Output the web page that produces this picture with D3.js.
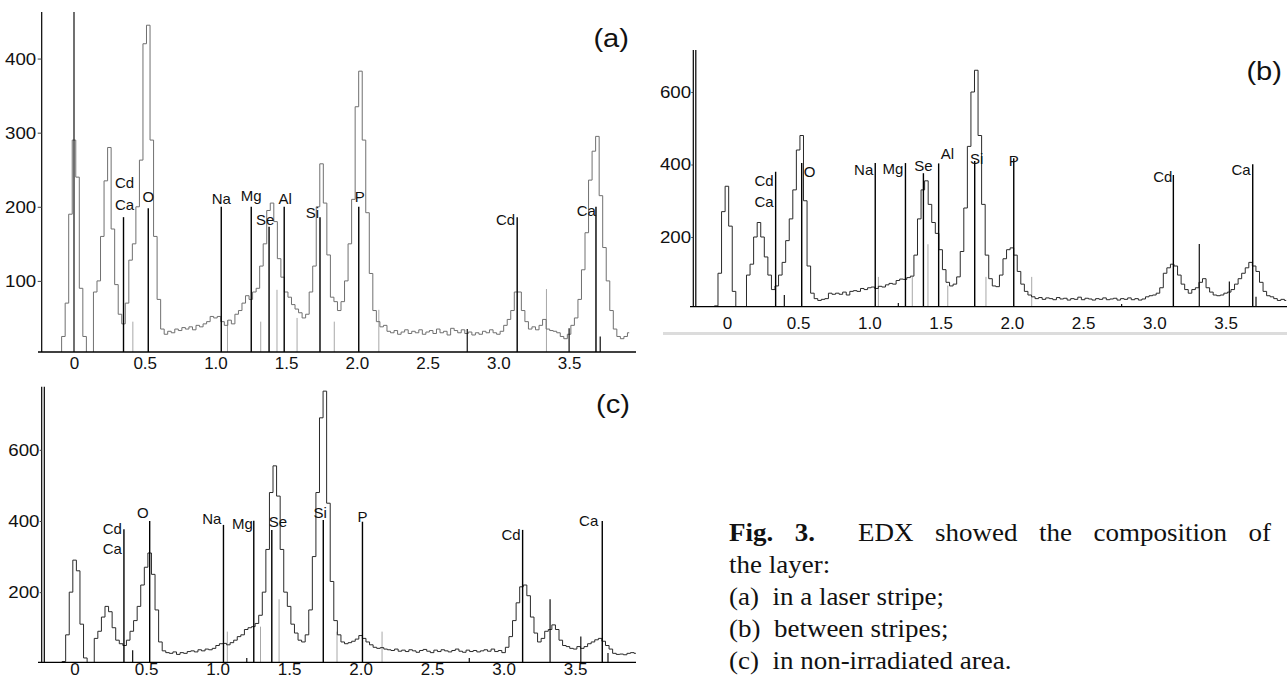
<!DOCTYPE html>
<html>
<head>
<meta charset="utf-8">
<script src="https://cdn.jsdelivr.net/npm/d3@7"></script>
<style>
  body { margin: 0; background: #fff; }
  svg { display: block; }
  text { font-family: "Liberation Sans", Arial, sans-serif; fill: #111; }
  .serif { font-family: "Liberation Serif", "Times New Roman", serif; }
</style>
</head>
<body>
<svg id="fig" width="1287" height="680"></svg>
<script>
// EDX spectra, counts per 0.025 keV channel starting at -0.2 keV
const energyStart = -0.2, energyStep = 0.025;

const countsA = [
  0,0,0,0,0,25,70,190,290,240,90,25,0,0,85,100,160,235,280,170,
  95,55,42,70,128,150,200,263,420,445,290,160,75,35,28,32,30,35,33,37,
  35,38,34,40,38,42,45,52,50,52,45,40,47,42,55,60,70,80,75,85,
  90,120,150,195,205,180,130,105,85,78,68,62,57,50,55,85,120,200,258,205,
  135,78,72,60,72,100,150,210,335,383,290,192,110,60,45,38,40,32,30,33,
  28,31,34,29,32,30,34,28,31,33,29,35,30,32,27,36,33,30,34,29,
  31,27,30,28,32,30,34,30,28,32,40,48,60,85,85,60,45,35,38,34,
  40,48,35,33,32,30,25,22,28,40,50,75,115,165,236,275,295,215,145,100,
  60,35,25,22,25,30
];
const countsB = [
  0,0,0,0,0,10,100,270,340,230,50,5,0,0,95,125,200,240,200,145,
  95,55,65,95,130,190,250,330,440,480,300,120,45,30,25,28,30,45,42,45,
  42,48,40,50,52,50,58,55,60,62,58,64,62,68,72,70,80,84,83,88,
  92,150,250,330,355,290,240,210,165,110,75,65,70,90,160,280,450,600,660,480,
  290,150,85,65,63,95,140,165,170,150,105,70,50,40,35,30,33,28,32,30,
  27,33,29,31,26,30,28,34,27,31,29,26,30,28,32,27,29,31,26,30,
  28,32,27,30,26,29,35,38,40,45,60,100,115,125,120,95,70,55,45,55,
  60,75,85,60,48,40,38,40,45,48,55,70,85,100,115,130,120,105,75,50,
  38,35,30,25,28,25
];
const countsC = [
  0,0,0,0,0,5,80,200,290,260,110,15,0,0,70,90,130,160,145,100,
  65,55,50,65,90,120,160,220,270,310,250,150,60,35,30,28,32,25,30,28,
  33,35,32,38,35,40,38,42,50,55,56,52,58,65,75,80,95,100,103,112,
  135,200,320,480,555,470,320,200,160,110,85,65,60,80,150,300,480,690,765,450,
  230,120,80,60,55,58,62,68,78,70,60,52,45,42,44,40,38,36,40,34,
  37,33,38,35,31,36,39,34,30,37,33,38,35,32,36,40,34,31,37,33,
  36,32,35,38,34,40,33,36,30,45,75,120,170,215,220,190,130,85,60,70,
  90,95,108,95,65,50,47,42,40,47,42,47,55,60,66,70,62,50,40,28,
  25,26,24,28,30,28
];

// labelled element lines: name, energy (keV), line height (counts)
const elementsA = ["Cd|Ca","O","Na","Mg","Se","Al","Si","P","Cd","Ca"];
const energiesA = [0.35,0.525,1.041,1.253,1.379,1.486,1.739,2.013,3.133,3.69];
const heightsA  = [186,198,200,200,173,200,186,200,186,200];

const elementsB = ["Cd|Ca","O","Na","Mg","Se","Al","Si","P","Cd","Ca"];
const energiesB = [0.342,0.525,1.041,1.253,1.379,1.486,1.739,2.013,3.133,3.69];
const heightsB  = [380,404,404,404,376,403,410,417,371,401];

const elementsC = ["Cd|Ca","O","Na","Mg","Se","Si","P","Cd","Ca"];
const energiesC = [0.345,0.525,1.041,1.253,1.379,1.739,2.013,3.133,3.69];
const heightsC  = [377,400,389,401,375,403,398,375,400];

// unlabelled lines [energy, height]
const faintLinesA = [[0.416,45],[1.085,47],[1.32,45],[1.435,88],[1.577,50],[1.84,45],[2.155,61],[3.34,89]];
const thinLinesA  = [[0,463],[2.78,35],[3.5,36],[3.72,25]];
const faintLinesB = [[1.063,90],[1.301,90],[1.411,180],[1.55,66],[1.818,90],[2.139,90]];
const thinLinesB  = [[0.403,40],[1.203,18],[2.77,15],[3.315,181],[3.526,77],[3.713,35]];
const faintLinesC = [[1.068,89],[1.3,103],[1.43,180],[1.835,89],[2.15,89]];
const thinLinesC  = [[0.406,37],[1.204,15],[2.76,15],[3.325,180],[3.54,75],[3.73,29]];

const xTicks = [0,0.5,1,1.5,2,2.5,3,3.5];
const xTickLabels = ["0","0.5","1.0","1.5","2.0","2.5","3.0","3.5"];
const yTicksA = [100,200,300,400];
const yTicksBC = [200,400,600];

const captionHead = ["Fig.","3."];
const captionWords = ["EDX","showed","the","composition","of"];
const captionLines = ["the layer:","(a)  in a laser stripe;","(b)  between stripes;","(c)  in non-irradiated area."];

// label placement per element: [anchor, dx, dy from line top, line spacing]
const labelPosA = [["middle",1,-7,22],["middle",0,-6],["middle",0,-3],["middle",0,-6],["middle",-4,-2],
  ["middle",1,-3],["end",-1,1],["middle",1,-5],["end",-2,8],["end",0,9]];
const labelPosB = [["end",-2,35,21],["start",2,14],["end",-2,12],["end",-2,11],["middle",0,-2],
  ["start",2,-4],["middle",2,3],["middle",0,8],["end",-1,7],["end",-2,11]];
const labelPosC = [["end",-2,25,20],["end",-1,-3],["end",-2,-1],["end",-1,8],["start",-3,-3],
  ["middle",-3,-2],["middle",0,0],["end",-2,10],["end",-4,5]];

const panels = [
  { id: "a", counts: countsA, elements: elementsA, energies: energiesA, heights: heightsA,
    faint: faintLinesA, thin: thinLinesA, labelPos: labelPosA, yTicks: yTicksA,
    xRange: [74, 569.1], yMax: 460, yRange: [355, 14.1], base: 352, left: 38, right: 636,
    axisX: [41.7], axisTop: 12, tickSize: 4, tickPad: 1, xPad: 5, lineColor: "#707070",
    tag: "(a)", tagX: 629, tagY: 47 },
  { id: "b", counts: countsB, elements: elementsB, energies: energiesB, heights: heightsB,
    faint: faintLinesB, thin: thinLinesB, labelPos: labelPosB, yTicks: yTicksBC,
    xRange: [726.9, 1225.65], yMax: 720, yRange: [309.5, 48.5], base: 306.7, left: 690, right: 1287,
    axisX: [693.3, 695.8], axisTop: 50, tickSize: 2, tickPad: 0, xPad: 10, lineColor: "#2a2a2a",
    tag: "(b)", tagX: 1282, tagY: 80 },
  { id: "c", counts: countsC, elements: elementsC, energies: energiesC, heights: heightsC,
    faint: faintLinesC, thin: thinLinesC, labelPos: labelPosC, yTicks: yTicksBC,
    xRange: [74.6, 575.1], yMax: 780, yRange: [663.3, 385.8], base: 662.3, left: 38, right: 636,
    axisX: [41.7, 44.3], axisTop: 386.7, tickSize: 2, tickPad: 0, xPad: 1, lineColor: "#2a2a2a",
    tag: "(c)", tagX: 630, tagY: 413 }
];

const svg = d3.select("#fig");
svg.append("rect").attr("width", 1287).attr("height", 680).attr("fill", "#fff");
const defs = svg.append("defs");

panels.forEach(p => {
  const x = d3.scaleLinear().domain([0, 3.5]).range(p.xRange);
  const y = d3.scaleLinear().domain([0, p.yMax]).range(p.yRange);
  const g = svg.append("g").attr("class", "panel-" + p.id);

  defs.append("clipPath").attr("id", "clip-" + p.id)
    .append("rect")
      .attr("x", p.left).attr("y", 0)
      .attr("width", p.right - p.left).attr("height", p.base);

  const pts = p.counts.map((v, i) => ({ e: energyStart + i * energyStep, v: v }));

  // faint (grey) reference lines
  g.selectAll(".faint")
    .data(p.faint)
    .enter().append("line")
      .attr("x1", d => x(d[0])).attr("x2", d => x(d[0]))
      .attr("y1", p.base).attr("y2", d => y(d[1]))
      .attr("stroke", "#a8a8a8").attr("stroke-width", 1);

  // spectrum
  const line = d3.line().x(d => x(d.e)).y(d => y(d.v)).curve(d3.curveStep);
  g.append("path")
    .datum(pts)
    .attr("clip-path", `url(#clip-${p.id})`)
    .attr("d", line)
    .attr("fill", "none")
    .attr("stroke", p.lineColor)
    .attr("stroke-width", 1);

  // thin dark lines
  g.selectAll(".thin")
    .data(p.thin)
    .enter().append("line")
      .attr("x1", d => x(d[0])).attr("x2", d => x(d[0]))
      .attr("y1", p.base).attr("y2", d => y(d[1]))
      .attr("stroke", "#111").attr("stroke-width", 1.2);

  // element lines and labels
  p.elements.forEach((name, i) => {
    const xe = x(p.energies[i]);
    const top = y(p.heights[i]);
    g.append("line")
      .attr("x1", xe).attr("x2", xe)
      .attr("y1", p.base).attr("y2", top)
      .attr("stroke", "#000").attr("stroke-width", 1.4);

    const lp = p.labelPos[i];
    const parts = name.split("|");
    parts.forEach((t, k) => {
      g.append("text")
        .attr("x", xe + lp[1])
        .attr("y", top + lp[2] - (parts.length - 1 - k) * (lp[3] || 0))
        .attr("text-anchor", lp[0])
        .style("font-size", "15px")
        .text(t);
    });
  });

  // axes frame
  g.append("line")
    .attr("x1", p.left).attr("x2", p.right)
    .attr("y1", p.base).attr("y2", p.base)
    .attr("stroke", "#000").attr("stroke-width", 1.3);
  p.axisX.forEach(ax => {
    g.append("line")
      .attr("x1", ax).attr("x2", ax)
      .attr("y1", p.axisTop).attr("y2", p.base)
      .attr("stroke", "#000").attr("stroke-width", 1.2);
  });

  // x tick labels
  const xAxis = g.append("g")
    .attr("transform", `translate(0, ${p.base})`)
    .call(d3.axisBottom(x).tickValues(xTicks)
      .tickFormat((d, i) => xTickLabels[i]).tickSize(0).tickPadding(p.xPad));
  xAxis.select(".domain").remove();
  xAxis.selectAll("text").style("font-size", "17px").attr("fill", "#111");

  // y tick labels (slightly wide, as in the scan)
  const yAxis = g.append("g")
    .attr("transform", `translate(${p.axisX[0]}, 0)`)
    .call(d3.axisLeft(y).tickValues(p.yTicks).tickSize(p.tickSize).tickPadding(p.tickPad));
  yAxis.select(".domain").remove();
  yAxis.selectAll("line").attr("stroke", "#444");
  yAxis.selectAll("text")
    .style("font-size", "17px").attr("fill", "#111")
    .attr("transform", "scale(1.1,1)");

  // panel tag
  g.append("text")
    .attr("transform", `translate(${p.tagX}, ${p.tagY}) scale(1.12, 1)`)
    .attr("text-anchor", "end")
    .style("font-size", "26px")
    .text(p.tag);
});

// light rule under panel (b) tick labels
svg.append("rect")
  .attr("x", 663).attr("y", 332).attr("width", 624).attr("height", 3)
  .attr("fill", "#dcdcdc");

// caption, a little stretched horizontally like the scanned figure
const capX = 729, capRight = 1271, capSize = 25, stretch = 1.08, capLead = 32;
const capTop = 541;

const cap1 = svg.append("g")
  .attr("transform", `translate(${capX}, ${capTop}) scale(${stretch}, 1)`);
const words = captionHead.map(w => ({ w: w, bold: true }))
  .concat(captionWords.map(w => ({ w: w, bold: false })));
const nodes = words.map(d => cap1.append("text")
  .attr("class", "serif")
  .style("font-size", capSize + "px")
  .style("font-weight", d.bold ? "bold" : "normal")
  .text(d.w));
const widths = nodes.map(n => n.node().getComputedTextLength());
const avail = (capRight - capX) / stretch;
// gap after "3." is double
const gapWeights = words.slice(0, -1).map((d, i) => (i === 1 ? 2 : 1));
const unit = (avail - d3.sum(widths)) / d3.sum(gapWeights);
let cx = 0;
nodes.forEach((n, i) => {
  n.attr("x", cx);
  cx += widths[i] + (i < gapWeights.length ? gapWeights[i] * unit : 0);
});

captionLines.forEach((t, i) => {
  svg.append("text")
    .attr("class", "serif")
    .attr("transform", `translate(${capX}, ${capTop + (i + 1) * capLead}) scale(${stretch}, 1)`)
    .style("font-size", capSize + "px")
    .style("white-space", "pre")
    .text(t);
});
</script>
</body>
</html>
